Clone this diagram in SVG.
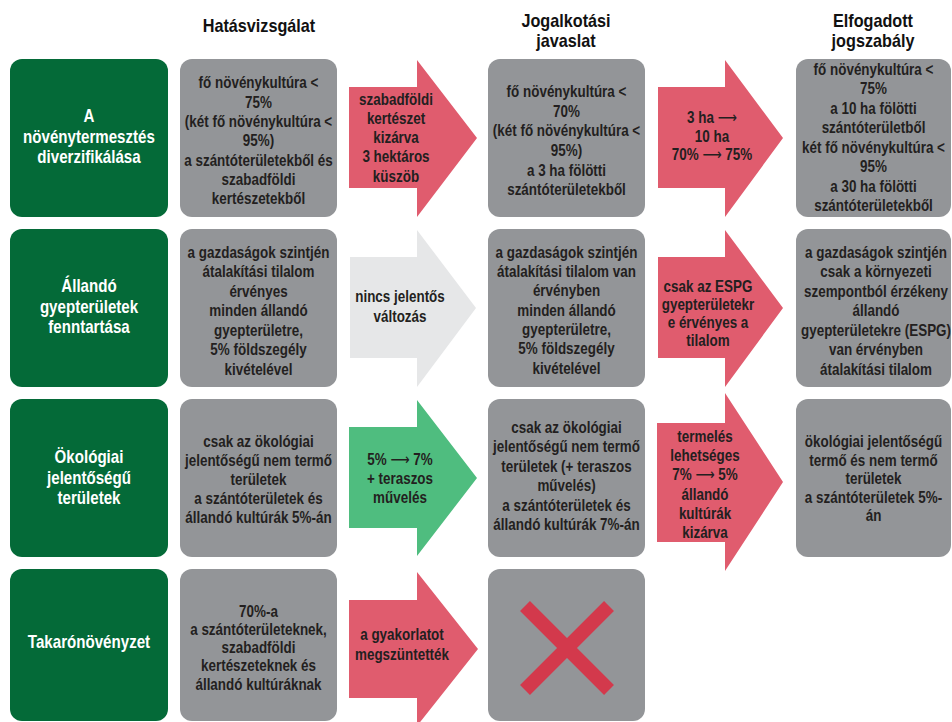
<svg xmlns="http://www.w3.org/2000/svg" width="952" height="722" viewBox="0 0 952 722">
<style>
.bg{fill:#ffffff}
.g{fill:#046a38}
.gr{fill:#939598}
.ar{fill:#e05c6e}
.ag{fill:#4fbd7f}
.al{fill:#e6e7e8}
.t{font-family:"Liberation Sans",Arial,"DejaVu Sans",sans-serif;font-weight:bold;font-size:16px;text-anchor:middle;fill:#231f20}
.w{fill:#ffffff;font-size:18px}
.h{font-size:18px;fill:#111111}
.la{font-family:"DejaVu Sans",sans-serif;font-weight:normal}
.x{stroke:#d3394c;stroke-width:14;stroke-linecap:butt}
</style>
<rect class="bg" x="0" y="0" width="952" height="722"/>

<g id="headers">
<text class="t h" transform="translate(259 0) scale(0.9 1)"><tspan x="0" y="32">Hatásvizsgálat</tspan></text>
<text class="t h" transform="translate(566 0) scale(0.9 1)"><tspan x="0" y="27">Jogalkotási</tspan><tspan x="0" y="47">javaslat</tspan></text>
<text class="t h" transform="translate(873 0) scale(0.9 1)"><tspan x="0" y="27">Elfogadott</tspan><tspan x="0" y="47">jogszabály</tspan></text>
</g>

<g id="connectors">
<path class="ar" d="M349,87 H417 V60 L477,138 L417,217 V188 H349 Z"/>
<path class="ar" d="M658,87 H725 V60 L783,138 L725,217 V188 H658 Z"/>
<path class="al" d="M350,257 H417 V230 L476,308 L417,387 V358 H350 Z"/>
<path class="ar" d="M658,257 H725 V230 L783,308 L725,387 V358 H658 Z"/>
<path class="ag" d="M349,427 H417 V400 L477,478 L417,556 V528 H349 Z"/>
<path class="ar" d="M657,423 H725 V393 L783,482 L725,571 V542 H657 Z"/>
<path class="ar" d="M349,600 H417 V572 L478,649 L417,726 V698 H349 Z"/>
</g>

<g id="arrow-labels">
<text class="t" transform="translate(396 0) scale(0.84 1)"><tspan x="0" y="105">szabadföldi</tspan><tspan x="0" y="124">kertészet</tspan><tspan x="0" y="143">kizárva</tspan><tspan x="0" y="162">3 hektáros</tspan><tspan x="0" y="182">küszöb</tspan></text>
<text class="t" transform="translate(712 0) scale(0.84 1)"><tspan x="0" y="123">3 ha <tspan class="la">⟶</tspan></tspan><tspan x="0" y="142">10 ha</tspan><tspan x="0" y="160">70% <tspan class="la">⟶</tspan> 75%</tspan></text>
<text class="t" transform="translate(400 0) scale(0.84 1)"><tspan x="0" y="302">nincs jelentős</tspan><tspan x="0" y="322">változás</tspan></text>
<text class="t" transform="translate(708 0) scale(0.84 1)"><tspan x="0" y="292">csak az ESPG</tspan><tspan x="0" y="310">gyepterületekr</tspan><tspan x="0" y="328">e érvényes a</tspan><tspan x="0" y="346">tilalom</tspan></text>
<text class="t" transform="translate(400 0) scale(0.84 1)"><tspan x="0" y="465">5% <tspan class="la">⟶</tspan> 7%</tspan><tspan x="0" y="484">+ teraszos</tspan><tspan x="0" y="503">művelés</tspan></text>
<text class="t" transform="translate(705 0) scale(0.84 1)"><tspan x="0" y="442">termelés</tspan><tspan x="0" y="461">lehetséges</tspan><tspan x="0" y="480.5">7% <tspan class="la">⟶</tspan> 5%</tspan><tspan x="0" y="500">állandó</tspan><tspan x="0" y="519">kultúrák</tspan><tspan x="0" y="538.5">kizárva</tspan></text>
<text class="t" transform="translate(402 0) scale(0.84 1)"><tspan x="0" y="640">a gyakorlatot</tspan><tspan x="0" y="660">megszüntették</tspan></text>
</g>

<g id="row1-topic">
<rect class="g" x="10" y="59" width="158" height="158" rx="12"/>
<text class="t w" transform="translate(89 0) scale(0.84 1)"><tspan x="0" y="122.5">A</tspan><tspan x="0" y="143">növénytermesztés</tspan><tspan x="0" y="163.5">diverzifikálása</tspan></text>
</g>
<g id="row1-impact">
<rect class="gr" x="180" y="59" width="157" height="158" rx="12"/>
<text class="t" transform="translate(258.5 0) scale(0.84 1)"><tspan x="0" y="88">fő növénykultúra &lt;</tspan><tspan x="0" y="108">75%</tspan><tspan x="0" y="127">(két fő növénykultúra &lt;</tspan><tspan x="0" y="146">95%)</tspan><tspan x="0" y="166">a szántóterületekből és</tspan><tspan x="0" y="185">szabadföldi</tspan><tspan x="0" y="204">kertészetekből</tspan></text>
</g>
<g id="row1-proposal">
<rect class="gr" x="488" y="59" width="157" height="158" rx="12"/>
<text class="t" transform="translate(566.5 0) scale(0.84 1)"><tspan x="0" y="97">fő növénykultúra &lt;</tspan><tspan x="0" y="117">70%</tspan><tspan x="0" y="136">(két fő növénykultúra &lt;</tspan><tspan x="0" y="156">95%)</tspan><tspan x="0" y="176">a 3 ha fölötti</tspan><tspan x="0" y="195">szántóterületekből</tspan></text>
</g>
<g id="row1-adopted">
<rect class="gr" x="796" y="59" width="155" height="158" rx="12"/>
<text class="t" transform="translate(873.5 0) scale(0.84 1)"><tspan x="0" y="75">fő növénykultúra &lt;</tspan><tspan x="0" y="94.5">75%</tspan><tspan x="0" y="114">a 10 ha fölötti</tspan><tspan x="0" y="133.5">szántóterületből</tspan><tspan x="0" y="153">két fő növénykultúra &lt;</tspan><tspan x="0" y="172.5">95%</tspan><tspan x="0" y="192">a 30 ha fölötti</tspan><tspan x="0" y="211.5">szántóterületekből</tspan></text>
</g>

<g id="row2-topic">
<rect class="g" x="10" y="229" width="158" height="158" rx="12"/>
<text class="t w" transform="translate(89 0) scale(0.84 1)"><tspan x="0" y="292.5">Állandó</tspan><tspan x="0" y="313">gyepterületek</tspan><tspan x="0" y="333.5">fenntartása</tspan></text>
</g>
<g id="row2-impact">
<rect class="gr" x="180" y="229" width="157" height="158" rx="12"/>
<text class="t" transform="translate(258.5 0) scale(0.84 1)"><tspan x="0" y="258">a gazdaságok szintjén</tspan><tspan x="0" y="277.5">átalakítási tilalom</tspan><tspan x="0" y="297">érvényes</tspan><tspan x="0" y="316.5">minden állandó</tspan><tspan x="0" y="336">gyepterületre,</tspan><tspan x="0" y="355.5">5% földszegély</tspan><tspan x="0" y="375">kivételével</tspan></text>
</g>
<g id="row2-proposal">
<rect class="gr" x="488" y="229" width="157" height="158" rx="12"/>
<text class="t" transform="translate(566.5 0) scale(0.84 1)"><tspan x="0" y="258">a gazdaságok szintjén</tspan><tspan x="0" y="277">átalakítási tilalom van</tspan><tspan x="0" y="296.5">érvényben</tspan><tspan x="0" y="316">minden állandó</tspan><tspan x="0" y="335">gyepterületre,</tspan><tspan x="0" y="354.5">5% földszegély</tspan><tspan x="0" y="374">kivételével</tspan></text>
</g>
<g id="row2-adopted">
<rect class="gr" x="796" y="229" width="155" height="158" rx="12"/>
<text class="t" transform="translate(876 0) scale(0.84 1)"><tspan x="0" y="258">a gazdaságok szintjén</tspan><tspan x="0" y="277.5">csak a környezeti</tspan><tspan x="0" y="297">szempontból érzékeny</tspan><tspan x="0" y="316.5">állandó</tspan><tspan x="0" y="336">gyepterületekre (ESPG)</tspan><tspan x="0" y="355.5">van érvényben</tspan><tspan x="0" y="375">átalakítási tilalom</tspan></text>
</g>

<g id="row3-topic">
<rect class="g" x="10" y="399" width="158" height="158" rx="12"/>
<text class="t w" transform="translate(89 0) scale(0.84 1)"><tspan x="0" y="463.5">Ökológiai</tspan><tspan x="0" y="484">jelentőségű</tspan><tspan x="0" y="504.5">területek</tspan></text>
</g>
<g id="row3-impact">
<rect class="gr" x="180" y="399" width="157" height="158" rx="12"/>
<text class="t" transform="translate(258.5 0) scale(0.84 1)"><tspan x="0" y="447">csak az ökológiai</tspan><tspan x="0" y="466">jelentőségű nem termő</tspan><tspan x="0" y="485">területek</tspan><tspan x="0" y="504">a szántóterületek és</tspan><tspan x="0" y="523">állandó kultúrák 5%-án</tspan></text>
</g>
<g id="row3-proposal">
<rect class="gr" x="488" y="399" width="157" height="158" rx="12"/>
<text class="t" transform="translate(566.5 0) scale(0.84 1)"><tspan x="0" y="433">csak az ökológiai</tspan><tspan x="0" y="452.5">jelentőségű nem termő</tspan><tspan x="0" y="472">területek (+ teraszos</tspan><tspan x="0" y="491.5">művelés)</tspan><tspan x="0" y="511">a szántóterületek és</tspan><tspan x="0" y="530.5">állandó kultúrák 7%-án</tspan></text>
</g>
<g id="row3-adopted">
<rect class="gr" x="796" y="399" width="155" height="158" rx="12"/>
<text class="t" transform="translate(873.5 0) scale(0.84 1)"><tspan x="0" y="447.5">ökológiai jelentőségű</tspan><tspan x="0" y="466">termő és nem termő</tspan><tspan x="0" y="484.5">területek</tspan><tspan x="0" y="503">a szántóterületek 5%-</tspan><tspan x="0" y="521.5">án</tspan></text>
</g>

<g id="row4-topic">
<rect class="g" x="10" y="569" width="158" height="152" rx="12"/>
<text class="t w" transform="translate(89 0) scale(0.84 1)"><tspan x="0" y="648">Takarónövényzet</tspan></text>
</g>
<g id="row4-impact">
<rect class="gr" x="180" y="569" width="157" height="152" rx="12"/>
<text class="t" transform="translate(258.5 0) scale(0.84 1)"><tspan x="0" y="617">70%-a</tspan><tspan x="0" y="635.5">a szántóterületeknek,</tspan><tspan x="0" y="653">szabadföldi</tspan><tspan x="0" y="671.5">kertészeteknek és</tspan><tspan x="0" y="690.5">állandó kultúráknak</tspan></text>
</g>
<g id="row4-proposal">
<rect class="gr" x="488" y="569" width="157" height="152" rx="12"/>
<line class="x" x1="525" y1="606" x2="609" y2="690"/>
<line class="x" x1="609" y1="606" x2="525" y2="690"/>
</g>
</svg>
